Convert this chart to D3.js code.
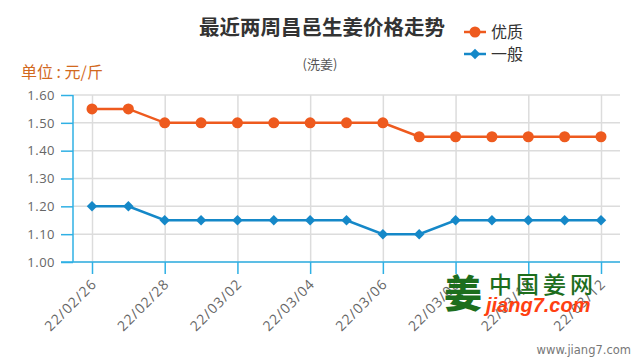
<!DOCTYPE html>
<html><head><meta charset="utf-8">
<script src="https://cdn.jsdelivr.net/npm/d3@7"></script>
<style>body{margin:0;background:#fff;}svg{display:block;font-family:"Open Sans","Noto Sans CJK SC",sans-serif;}</style>
</head><body>
<svg id="c" width="640" height="360"></svg>
<script>
const dates = ["22/02/26","22/02/27","22/02/28","22/03/01","22/03/02","22/03/03","22/03/04","22/03/05","22/03/06","22/03/07","22/03/08","22/03/09","22/03/10","22/03/11","22/03/12"];
const premium = [1.55,1.55,1.50,1.50,1.50,1.50,1.50,1.50,1.50,1.45,1.45,1.45,1.45,1.45,1.45];
const ordinary = [1.20,1.20,1.15,1.15,1.15,1.15,1.15,1.15,1.10,1.10,1.15,1.15,1.15,1.15,1.15];
const seriesNames = ["优质","一般"];
const yTicks = [1.00,1.10,1.20,1.30,1.40,1.50,1.60];
const labelDates = dates.filter((d,i)=>i%2===0);

const svg = d3.select("#c");
const orange = "#ee5a1e", blue = "#1588c8", axisBlue = "#2fb0e4";
const x = d3.scalePoint().domain(dates).range([92, 601]);
const y = d3.scaleLinear().domain([1.0, 1.6]).range([262, 95]);

// horizontal grid
svg.append("g").selectAll("line").data(yTicks).join("line")
  .attr("x1",73).attr("x2",620).attr("y1",d=>y(d)).attr("y2",d=>y(d))
  .attr("stroke","#dcdcdc").attr("stroke-width",1.5);
// vertical grid
svg.append("g").selectAll("line").data(labelDates).join("line")
  .attr("x1",d=>x(d)+0.5).attr("x2",d=>x(d)+0.5).attr("y1",95).attr("y2",262)
  .attr("stroke","#dcdcdc").attr("stroke-width",1.5);

// y axis
const yAxis = svg.append("g").attr("transform","translate(73,0)")
  .call(d3.axisLeft(y).tickValues(yTicks).tickFormat(d3.format(".2f")).tickSize(12).tickPadding(6));
yAxis.select(".domain").remove();
yAxis.append("line").attr("x1",0).attr("x2",0).attr("y1",95).attr("y2",262).attr("stroke",axisBlue).attr("stroke-width",1.5);
yAxis.selectAll(".tick line").attr("stroke",axisBlue).attr("stroke-width",1.5);
yAxis.selectAll(".tick text").attr("fill","#666").attr("font-size",13).attr("letter-spacing",0.5).attr("font-family","'Open Sans', sans-serif");

// x axis
const xAxis = svg.append("g").attr("transform","translate(0,262)")
  .call(d3.axisBottom(x).tickValues(labelDates).tickSize(12).tickPadding(4));
xAxis.select(".domain").remove();
xAxis.append("line").attr("x1",61).attr("x2",620).attr("y1",0).attr("y2",0).attr("stroke",axisBlue).attr("stroke-width",1.5);
xAxis.selectAll(".tick line").attr("stroke",axisBlue).attr("stroke-width",1.5);
xAxis.selectAll(".tick text").attr("fill","#666").attr("font-size",14).attr("letter-spacing",1)
  .attr("font-family","'Open Sans', sans-serif")
  .attr("text-anchor","end").attr("x",0).attr("y",0).attr("dy",0)
  .attr("transform","translate(5,23) rotate(-45)");

// watermark logo
const logo = svg.append("g");
logo.append("text").attr("x",444).attr("y",307).attr("font-size",38).attr("font-weight",900)
  .attr("fill","#1d6e1d").attr("font-family","'Noto Sans CJK SC'").text("姜");
logo.append("text").attr("x",489).attr("y",293).attr("font-size",23).attr("font-weight",500)
  .attr("fill","#1d6e1d").attr("letter-spacing",4).attr("font-family","'Noto Sans CJK SC'").text("中国姜网");
logo.append("text").attr("x",486).attr("y",312).attr("font-size",20).attr("font-weight","bold").attr("font-style","italic")
  .attr("fill","#ff4010").attr("font-family","'Liberation Sans', Arial, sans-serif").text("jiang7.com");
svg.append("text").attr("x",631).attr("y",354).attr("text-anchor","end").attr("font-size",11.5)
  .attr("fill","#777").attr("font-family","'DejaVu Sans', sans-serif").text("www.jiang7.com");

// lines
const line = d3.line().x((d,i)=>x(dates[i])).y(d=>y(d));
svg.append("path").datum(premium).attr("d",line).attr("fill","none").attr("stroke",orange).attr("stroke-width",2.5);
svg.append("path").datum(ordinary).attr("d",line).attr("fill","none").attr("stroke",blue).attr("stroke-width",2.5);
svg.append("g").selectAll("circle").data(premium).join("circle")
  .attr("cx",(d,i)=>x(dates[i])).attr("cy",d=>y(d)).attr("r",5.5).attr("fill",orange);
const diamond = d3.symbol().type(d3.symbolDiamond2).size(70);
svg.append("g").selectAll("path").data(ordinary).join("path")
  .attr("transform",(d,i)=>`translate(${x(dates[i])},${y(d)})`).attr("d",diamond).attr("fill",blue);

// title
svg.append("text").attr("x",322).attr("y",35).attr("text-anchor","middle").attr("font-size",20.5).attr("font-weight","bold")
  .attr("fill","#333").attr("font-family","'Noto Sans CJK SC'").text("最近两周昌邑生姜价格走势");
svg.append("text").attr("x",320).attr("y",69).attr("text-anchor","middle").attr("font-size",13)
  .attr("fill","#555").attr("font-family","'Noto Sans CJK SC'").text("(洗姜)");
svg.append("text").attr("x",21).attr("y",78).attr("font-size",16)
  .attr("fill","#d2691e").attr("font-family","'Noto Sans CJK SC'").text("单位 : 元/斤");

// legend
const leg = svg.append("g");
const legColors = [orange, blue];
seriesNames.forEach((n,i)=>{
  const ly = 32 + i*22;
  leg.append("line").attr("x1",464).attr("x2",486).attr("y1",ly).attr("y2",ly).attr("stroke",legColors[i]).attr("stroke-width",2.5);
  if(i===0) leg.append("circle").attr("cx",475).attr("cy",ly).attr("r",5.5).attr("fill",orange);
  else leg.append("path").attr("transform",`translate(475,${ly})`).attr("d",diamond).attr("fill",blue);
  leg.append("text").attr("x",491).attr("y",ly+6).attr("font-size",16).attr("fill","#333")
    .attr("font-family","'Noto Sans CJK SC'").text(n);
});
</script>
</body></html>
